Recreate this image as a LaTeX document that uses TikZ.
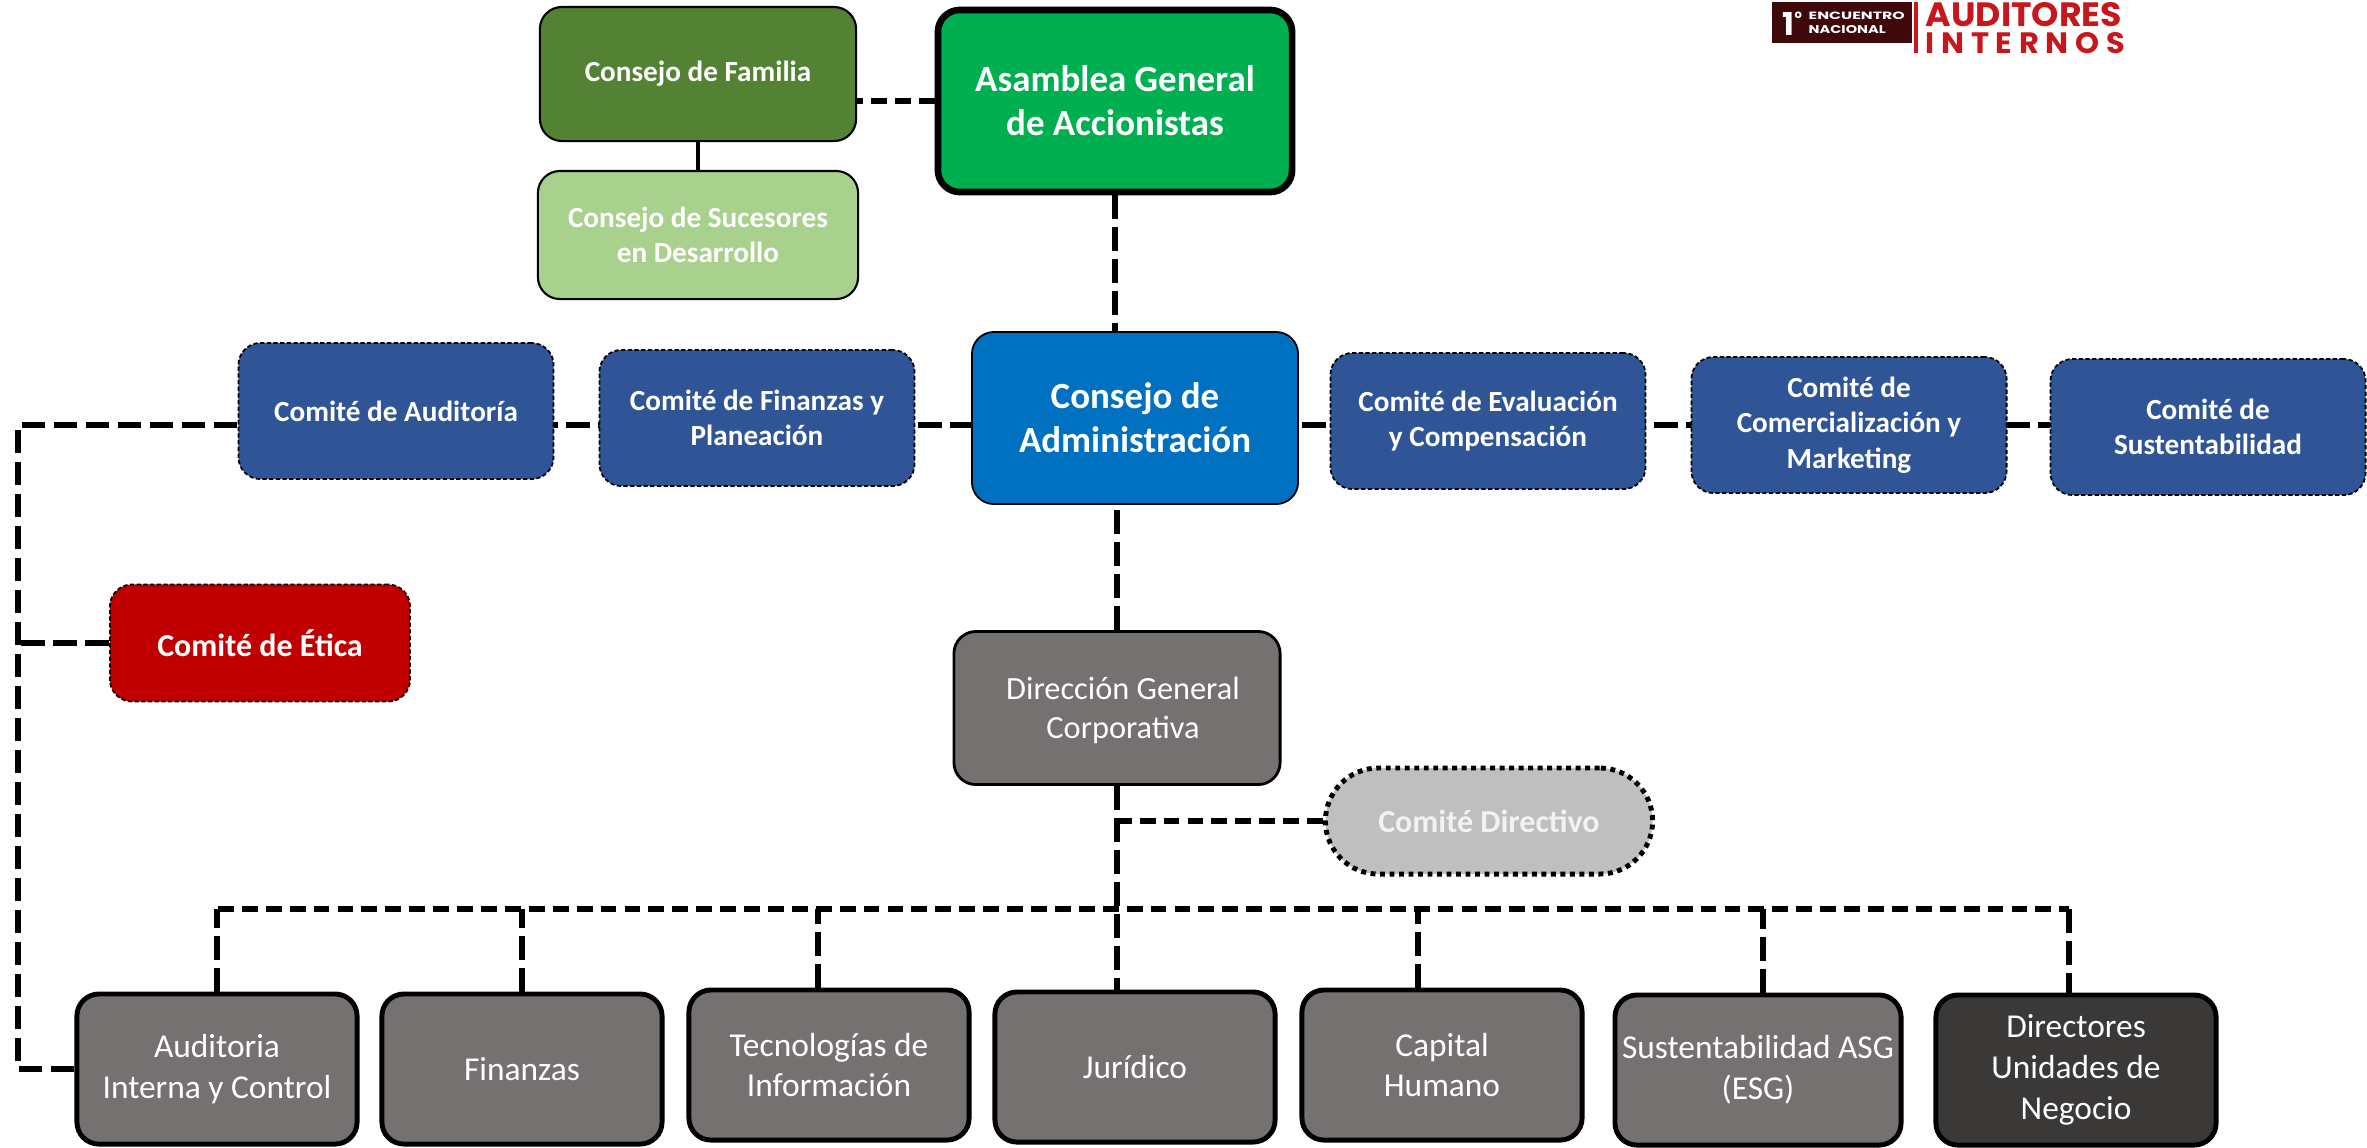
\documentclass[tikz,border=0pt]{standalone}
\usepackage{fontspec}
\setmainfont{Carlito}
\newfontfamily\logofont{Poppins}
\newfontfamily\logospaced{Poppins}[LetterSpace=22]
\usetikzlibrary{positioning}
\usetikzlibrary{backgrounds}
\definecolor{familia}{HTML}{548235}
\definecolor{sucesores}{HTML}{A9D18E}
\definecolor{asamblea}{HTML}{00B050}
\definecolor{consejo}{HTML}{0070C0}
\definecolor{comiteblue}{HTML}{2F5597}
\definecolor{etica}{HTML}{C00000}
\definecolor{areagray}{HTML}{767171}
\definecolor{dunegro}{HTML}{3B3838}
\definecolor{directivo}{HTML}{BFBFBF}
\definecolor{logodark}{HTML}{3F0909}
\definecolor{logored}{HTML}{C8161D}
\newcommand\comitefont{\fontsize{8.3}{10.1}\selectfont\bfseries}
\newcommand\eticafont{\fontsize{9.1}{11}\selectfont\bfseries}
\newcommand\asafont{\fontsize{10.5}{12.6}\selectfont\bfseries}
\newcommand\dgcfont{\fontsize{9.2}{11.1}\selectfont}
\newcommand\areafont{\fontsize{9.5}{11.6}\selectfont}
\tikzset{box/.style = {rounded corners=0.22cm, align=center, text=white, inner sep=2pt},
         comite/.style = {box, fill=comiteblue, draw=black, line width=0.5pt,
                          dash pattern=on 1.2pt off 0.7pt,
                          minimum width=3.15cm, minimum height=1.36cm, font=\comitefont},
         area/.style = {box, fill=areagray, draw=black, line width=1.4pt,
                        minimum width=2.8cm, minimum height=1.5cm, font=\areafont},
         link/.style = {line width=1.8pt, dash pattern=on 4.5pt off 2.3pt},
         longlink/.style = {line width=1.9pt, dash pattern=on 6.8pt off 2.3pt}}

\begin{document}
\begin{tikzpicture}[x=0.01cm, y=-0.01cm]
      \useasboundingbox (0, 0) rectangle (2367, 1147);

      % consejos de la familia y asamblea
      \node [box, fill=familia, draw=black, line width=0.6pt, minimum width=3.16cm,
             minimum height=1.34cm, font=\comitefont] (CF) at (698, 74) {Consejo de Familia};
      \node [box, fill=sucesores, draw=black, line width=0.6pt, minimum width=3.2cm,
             minimum height=1.28cm, font=\comitefont] (CS) at (698, 235) {Consejo de Sucesores\\en Desarrollo};
      \node [box, fill=asamblea, draw=black, line width=1.9pt, minimum width=3.54cm,
             minimum height=1.82cm, font=\asafont] (AGA) at (1115, 101) {Asamblea General\\de Accionistas};
      \node [box, fill=consejo, draw=black, line width=0.5pt, minimum width=3.26cm,
             minimum height=1.72cm, font=\asafont] (CA) at (1135, 418) {Consejo de\\Administración};

      % comites
      \node [comite] (CAud) at (396, 411) {Comité de Auditoría};
      \node [comite] (CFP) at (757, 418) {Comité de Finanzas y\\Planeación};
      \node [comite] (CEC) at (1488, 421) {Comité de Evaluación\\y Compensación};
      \node [comite] (CCM) at (1849, 425) {Comité de\\Comercialización y\\Marketing};
      \node [comite] (CSu) at (2208, 427) {Comité de\\Sustentabilidad};
      \node [comite, fill=etica, minimum width=3cm, minimum height=1.17cm, font=\eticafont] (CE) at (260, 643) {Comité de Ética};

      % direccion
      \node [box, fill=areagray, draw=black, line width=0.8pt, minimum width=3.26cm,
             minimum height=1.53cm, font=\dgcfont, text depth=0pt] (DGC) at (1117, 708) {\hspace*{0.12cm}Dirección General\\\hspace*{0.12cm}Corporativa};
      \node [box, rounded corners=0.53cm, fill=directivo, draw=black, line width=1.4pt,
             dash pattern=on 1.4pt off 1.3pt, text=white!95!black, minimum width=3.27cm,
             minimum height=1.06cm, font=\eticafont] (CD) at (1489, 821) {Comité Directivo};

      % areas
      \node [area] (AIC) at (217, 1069) {Auditoria\\Interna y Control};
      \node [area] (Fin) at (522, 1069) {Finanzas};
      \node [area] (TI) at (829, 1065) {Tecnologías de\\Información};
      \node [area] (Jur) at (1135, 1067) {Jurídico};
      \node [area] (CH) at (1442, 1065) {Capital\\Humano};
      \node [area] (SASG) at (1758, 1070) {Sustentabilidad ASG\\(ESG)};
      \node [area, fill=dunegro] (DUN) at (2076, 1070) {Directores\\Unidades de\\Negocio};

      % logo
      \node [fill=logodark, minimum width=1.39cm, minimum height=0.41cm, inner sep=0] (LB) at (1842, 22) {};
      \node [anchor=base west, inner sep=0, text=white, font=\logofont\bfseries]
            (L1) at (1782, 35) {\resizebox{!}{0.23cm}{1}\raisebox{0.165cm}{\resizebox{!}{0.065cm}{o}}};
      \node [anchor=north west, inner sep=0, text=white, align=left,
             font=\logofont\bfseries\fontsize{2}{4.04}\selectfont]
            (LE) at (1808, 11.5) {\resizebox{0.96cm}{0.075cm}{ENCUENTRO}\\\resizebox{0.77cm}{0.08cm}{NACIONAL}};
      \fill [logored] (1914, 2) rectangle (1918, 53);
      \node [anchor=north west, inner sep=0, text=logored, align=left,
             font=\logofont\bfseries\fontsize{2}{7.68}\selectfont]
            (LA) at (1925, 2) {\resizebox{1.96cm}{0.24cm}{AUDITORES}\\\logospaced\bfseries\resizebox{1.99cm}{0.21cm}{INTERNOS}};

      % conexiones
      \begin{scope}[on background layer]
        \coordinate (lc) at (18, 425);
        \coordinate (busL) at (218, 909);
        \coordinate (busR) at (2069, 909);
        \draw [longlink] (AIC.west) -| (lc) -- (lc -| CSu.west);
        \draw [longlink] (CE.west) -- (CE.west -| lc);
        \draw [link] (AGA.west) -- (AGA.west -| CF.east);
        \draw [line width=1.3pt] (CF.south) -- (CS.north);
        \draw [longlink] (AGA.south) -- (AGA.south |- CA.north);
        \draw [longlink] (DGC.north) -- (DGC.north |- CA.south);
        \draw [longlink] (DGC.south) -- (DGC.south |- Jur.north);
        \draw [link] (CD.west) -- (CD.west -| DGC.south);
        \draw [link] (busL) -- (busR);
        \draw [longlink] (AIC.north) -- (AIC.north |- busL);
        \draw [longlink] (busR) -- (busR |- DUN.north);
        \foreach \n/\dx in {Fin/0, TI/-11, CH/-24, SASG/5}
          \draw [longlink] ([xshift=\dx*0.01cm]\n.north) -- ([xshift=\dx*0.01cm]\n.north |- busL);
      \end{scope}
\end{tikzpicture}
\end{document}
